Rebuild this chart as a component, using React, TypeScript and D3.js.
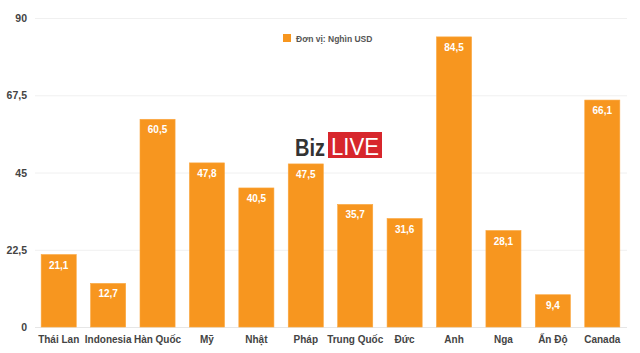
import React, { useEffect, useRef } from 'react';
import * as d3 from 'd3';

const countries = ['Thái Lan', 'Indonesia', 'Hàn Quốc', 'Mỹ', 'Nhật', 'Pháp', 'Trung Quốc', 'Đức', 'Anh', 'Nga', 'Ấn Độ', 'Canada'];
const values = [21.1, 12.7, 60.5, 47.8, 40.5, 47.5, 35.7, 31.6, 84.5, 28.1, 9.4, 66.1];
const yTicks = [0, 22.5, 45, 67.5, 90];
const legendLabel = 'Đơn vị: Nghìn USD';

const W = 640;
const H = 353;
const fmt = (v: number) => String(v).replace('.', ',');

const App = () => {
  const ref = useRef<SVGSVGElement>(null);

  useEffect(() => {
    if (!ref.current) return;
    const svg = d3.select(ref.current);
    svg.selectAll('*').remove();
    const font = 'Liberation Sans, Arial, Helvetica, sans-serif';

    const x = d3.scaleBand().domain(countries).range([34, 627]).paddingInner(0.29).paddingOuter(0.145);
    const y = d3.scaleLinear().domain([0, 90]).range([327, 18]);

    // grid
    svg.append('g')
      .selectAll('line')
      .data(yTicks)
      .join('line')
      .attr('x1', 35)
      .attr('x2', 627)
      .attr('y1', (d) => y(d) + 0.5)
      .attr('y2', (d) => y(d) + 0.5)
      .attr('stroke', (d) => (d === 0 ? '#e6e6e6' : '#f0f0f0'))
      .attr('stroke-width', 1);

    svg.append('g')
      .selectAll('text')
      .data(yTicks)
      .join('text')
      .attr('x', 27)
      .attr('y', (d) => y(d) + 4)
      .attr('text-anchor', 'end')
      .attr('font-family', font)
      .attr('font-size', 10.5)
      .attr('font-weight', 'bold')
      .attr('fill', '#444')
      .text((d) => fmt(d));

    // watermark
    const logo = svg.append('g');
    logo.append('text')
      .attr('x', 295)
      .attr('y', 156)
      .attr('font-family', font)
      .attr('font-size', 23)
      .attr('font-weight', 'bold')
      .attr('fill', '#333')
      .attr('textLength', 30)
      .attr('lengthAdjust', 'spacingAndGlyphs')
      .text('Biz');
    logo.append('rect').attr('x', 328).attr('y', 132).attr('width', 54).attr('height', 26).attr('fill', '#d7262c');
    logo.append('text')
      .attr('x', 331)
      .attr('y', 155)
      .attr('font-family', font)
      .attr('font-size', 24)
      .attr('fill', '#fff')
      .attr('textLength', 48)
      .attr('lengthAdjust', 'spacingAndGlyphs')
      .text('LIVE');
    logo.append('line').attr('x1', 290).attr('x2', 323).attr('y1', 164.5).attr('y2', 164.5).attr('stroke', '#f5b56a').attr('stroke-width', 1);

    // bars
    svg.append('g')
      .selectAll('rect')
      .data(values)
      .join('rect')
      .attr('x', (_, i) => x(countries[i])!)
      .attr('y', (d) => y(d))
      .attr('width', x.bandwidth())
      .attr('height', (d) => y(0) - y(d))
      .attr('fill', '#f7961f')
      .attr('stroke', '#fba73f')
      .attr('stroke-width', 0.6);

    svg.append('g')
      .selectAll('text')
      .data(values)
      .join('text')
      .attr('x', (_, i) => x(countries[i])! + x.bandwidth() / 2)
      .attr('y', (d) => y(d) + 14)
      .attr('text-anchor', 'middle')
      .attr('font-family', font)
      .attr('font-size', 10)
      .attr('font-weight', 'bold')
      .attr('fill', '#fff')
      .text((d) => fmt(d));

    svg.append('g')
      .selectAll('text')
      .data(countries)
      .join('text')
      .attr('x', (d) => x(d)! + x.bandwidth() / 2)
      .attr('y', 343)
      .attr('text-anchor', 'middle')
      .attr('font-family', font)
      .attr('font-size', 10)
      .attr('font-weight', 'bold')
      .attr('fill', '#444')
      .text((d) => d);

    // legend
    svg.append('rect').attr('x', 283).attr('y', 34).attr('width', 8).attr('height', 8).attr('fill', '#f7961f');
    svg.append('text')
      .attr('x', 296)
      .attr('y', 41.5)
      .attr('font-family', font)
      .attr('font-size', 8.5)
      .attr('font-weight', 'bold')
      .attr('fill', '#555')
      .text(legendLabel);
  }, []);

  return <svg ref={ref} width={W} height={H} style={{ position: 'absolute', left: 0, top: 0, background: '#fff' }} />;
};

export default App;
